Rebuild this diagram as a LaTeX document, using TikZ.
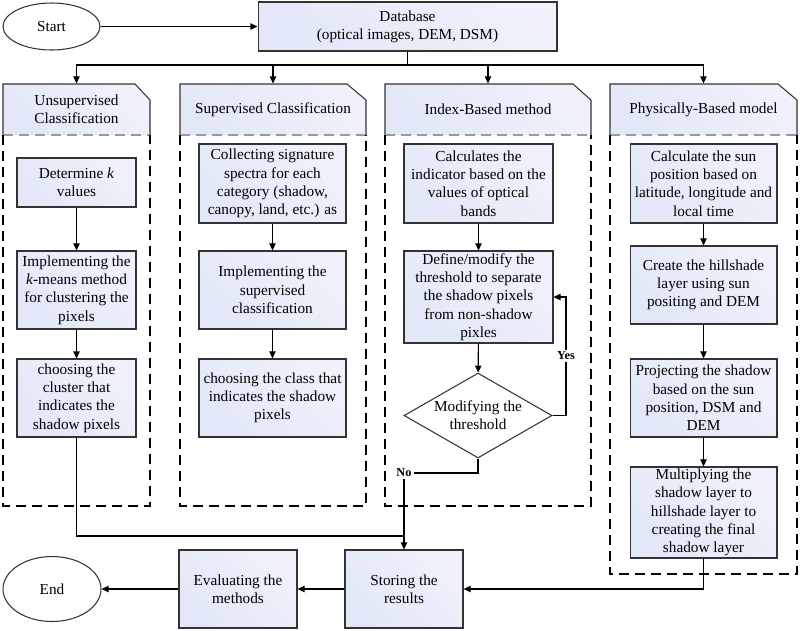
\documentclass[tikz,border=0pt]{standalone}
\usepackage{fontspec}
\setmainfont{Liberation Serif}
\usetikzlibrary{arrows.meta,shapes.geometric}

\definecolor{boxblue}{RGB}{226,232,248}
\definecolor{boxlav}{RGB}{240,241,251}

\begin{document}
\begin{tikzpicture}[x=0.02cm, y=-0.02cm, >={Triangle[length=4pt,width=3.6pt]}, semithick,
  every node/.style={font=\fontsize{8.7}{10.4}\selectfont},
  box/.style={draw=black!80, top color=boxblue, middle color=white, bottom color=boxlav, shading angle=135, align=center, inner sep=0.5pt},
  term/.style={draw=black!80, ellipse, fill=white, inner sep=0pt},
  hd/.style={align=center, minimum height=1.02cm},
  hdr/.style={draw=black!80, top color=boxblue, middle color=white, bottom color=boxlav, shading angle=135},
  frame/.style={dash pattern=on 0.2cm off 0.12cm, line width=1.1pt},
  sep/.style={draw=black!40, dash pattern=on 0.2cm off 0.12cm},
  lbl/.style={fill=white, inner sep=1pt, font=\fontsize{7}{8}\selectfont\bfseries},
  wa/.style={minimum width=2.38cm}, wb/.style={minimum width=2.94cm}, wc/.style={minimum width=2.98cm}]
\path[use as bounding box] (0,0) rectangle (800,630);

% start and database
\node[term, minimum width=1.94cm, minimum height=0.94cm] (start) at (51.5,26.5) {Start};
\node[box, minimum width=5.98cm, minimum height=0.98cm] (db) at (407.5,26.5) {Database\\(optical images, DEM, DSM)};
\coordinate (split) at (407.5,65);

% the four method panels
\shadedraw[hdr] (3,135) -- (3,84) -- (135,84) -- (150,100) -- (150,135);
\draw[sep] (3,135) -- (150,135);
\draw[frame] (3,135) -- (3,506) -- (150,506) -- (150,135);
\shadedraw[hdr] (180,135) -- (180,84) -- (347,84) -- (366,100) -- (366,135);
\draw[sep] (180,135) -- (366,135);
\draw[frame] (180,135) -- (180,506) -- (366,506) -- (366,135);
\shadedraw[hdr] (385,135) -- (385,84) -- (573,84) -- (591,100) -- (591,135);
\draw[sep] (385,135) -- (591,135);
\draw[frame] (385,135) -- (385,506) -- (591,506) -- (591,135);
\shadedraw[hdr] (610,135) -- (610,84) -- (778,84) -- (797,100) -- (797,135);
\draw[sep] (610,135) -- (797,135);
\draw[frame] (610,135) -- (610,574) -- (797,574) -- (797,135);

\node[hd, minimum width=2.94cm] (h1) at (76.5,109.5) {Unsupervised\\Classification};
\node[hd, minimum width=3.72cm] (h2) at (273,109.5) {Supervised Classification};
\node[hd, minimum width=4.12cm] (h3) at (488,109.5) {Index-Based method};
\node[hd, minimum width=3.74cm] (h4) at (703.5,109.5) {Physically-Based model};

% unsupervised
\node[box, wa, minimum height=0.98cm] (u1) at (76.5,182.5) {Determine \textit{k}\\values};
\node[box, wa, minimum height=1.56cm] (u2) at (76.5,290) {Implementing the\\\textit{k}-means method\\for clustering the\\pixels};
\node[box, wa, minimum height=1.56cm] (u3) at (76.5,398) {choosing the\\cluster that\\indicates the\\shadow pixels};

% supervised
\node[box, wb, minimum height=1.58cm] (s1) at (272.5,183.5) {Collecting signature\\spectra for each\\category (shadow,\\canopy, land, etc.) as};
\node[box, wb, minimum height=1.56cm] (s2) at (272.5,290) {Implementing the\\supervised\\classification};
\node[box, wb, minimum height=1.56cm] (s3) at (272.5,398) {choosing the class that\\indicates the shadow\\pixels};

% index based
\node[box, wc, minimum height=1.58cm] (i1) at (478.5,183.5) {Calculates the\\indicator based on the\\values of optical\\bands};
\node[box, wc, minimum height=1.84cm] (i2) at (478.5,297) {Define/modify the\\threshold to separate\\the shadow pixels\\from non-shadow\\pixles};
\node[draw=black!80, diamond, aspect=1.74, inner sep=0pt, minimum width=2.96cm, minimum height=1.7cm, fill=white, align=center] (dia) at (478,415.5) {Modifying the\\threshold};
\node[lbl] (yes) at (566,356) {Yes};
\node[lbl] (no) at (404,473) {No};

% physically based
\node[box, wb, minimum height=1.58cm] (p1) at (703.5,183.5) {Calculate the sun\\position based on\\latitude, longitude and\\local time};
\node[box, wb, minimum height=1.56cm] (p2) at (703.5,285) {Create the hillshade\\layer using sun\\positing and DEM};
\node[box, wb, minimum height=1.56cm] (p3) at (703.5,398) {Projecting the shadow\\based on the sun\\position, DSM and\\DEM};
\node[box, wb, minimum height=1.82cm] (p4) at (703.5,512.5) {Multiplying the\\shadow layer to\\hillshade layer to\\creating the final\\shadow layer};

% bottom row
\node[term, minimum width=1.96cm, minimum height=1.3cm] (end) at (52,589) {End};
\node[box, minimum width=2.36cm, minimum height=1.56cm] (eval) at (238,589) {Evaluating the\\methods};
\node[box, minimum width=2.36cm, minimum height=1.56cm] (store) at (404,589) {Storing the\\results};
\coordinate (join) at (404,536);

\draw[->] (start) -- (db);
\draw[->] (db) -- (split) -| (h1);
\draw[->] (split) -| (h2);
\draw[->] (split) -| (h3);
\draw[->] (split) -| (h4);
\draw[->] (u1) -- (u2);
\draw[->] (u2) -- (u3);
\draw[->] (s1) -- (s2);
\draw[->] (s2) -- (s3);
\draw[->] (i1) -- (i2);
\draw[->] (i2) -- (dia);
\draw (dia.east) -| (yes.south);
\draw[->] (yes.north) |- (i2.east);
\draw (dia.south) |- (no.east);
\draw[->] (no) -- (store);
\draw[->] (p1) -- (p2);
\draw[->] (p2) -- (p3);
\draw[->] (p3) -- (p4);
\draw (u3) |- (join);
\draw[->] (p4) |- (store);
\draw[->] (store) -- (eval);
\draw[->] (eval) -- (end);
\end{tikzpicture}
\end{document}
